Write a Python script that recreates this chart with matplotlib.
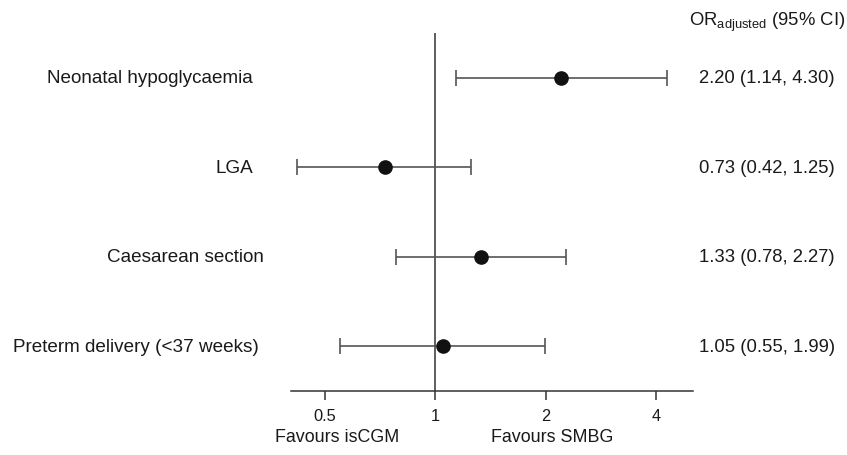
import numpy as np
import matplotlib
matplotlib.use("Agg")
import matplotlib.pyplot as plt
import matplotlib.transforms as mtransforms

plt.rcParams['font.family'] = ['Liberation Sans', 'DejaVu Sans']
plt.rcParams['mathtext.fontset'] = 'custom'
plt.rcParams['mathtext.rm'] = 'Liberation Sans'
plt.rcParams['mathtext.it'] = 'Liberation Sans'

# data (top to bottom)
outcomes = ["Neonatal hypoglycaemia", "LGA", "Caesarean section", "Preterm delivery (<37 weeks)"]
odds = [2.20, 0.73, 1.33, 1.05]
lower = [1.14, 0.42, 0.78, 0.55]
upper = [4.30, 1.25, 2.27, 1.99]
xticks = [0.5, 1, 2, 4]
xticklabels = ["0.5", "1", "2", "4"]

# right edge of each outcome label, in figure pixels
label_right = [253, 253, 264, 259]

fig = plt.figure(figsize=(8.47, 4.56), dpi=100)
ax = fig.add_axes([291 / 847, 1 - 392 / 456, (693 - 291) / 847, (392 - 34) / 456])

n = len(outcomes)
ypos = np.arange(n, 0, -1)
odds = np.array(odds)
err = np.vstack([odds - np.array(lower), np.array(upper) - odds])

ax.errorbar(odds, ypos, xerr=err, fmt='none', ecolor='#555555', elinewidth=1.2,
            capsize=6, capthick=1.2, zorder=2)
ax.plot(odds, ypos, 'o', color='#111111', markersize=9.5, zorder=3)
ax.axvline(1, color='#333333', lw=1.1, zorder=1)

ax.set_xscale('log')
ax.set_xlim(0.404, 5.05)
ax.set_ylim(0.5, 4.5)
ax.set_xticks(xticks)
ax.set_xticklabels(xticklabels)
ax.minorticks_off()
ax.set_yticks([])
for s in ['top', 'right', 'left']:
    ax.spines[s].set_visible(False)
ax.spines['bottom'].set_color('#333333')
ax.spines['bottom'].set_linewidth(1.1)
ax.tick_params(axis='x', direction='out', length=6.5, width=1.1, color='#333333',
               labelsize=11.8, labelcolor='#1a1a1a', pad=6)

trans = mtransforms.blended_transform_factory(fig.transFigure, ax.transData)
for lab, xr, y in zip(outcomes, label_right, ypos):
    ax.text(xr / 847, y, lab, transform=trans, ha='right', va='center',
            fontsize=13.6, color='#1a1a1a')

for o, lo, hi, y in zip(odds, lower, upper, ypos):
    ax.text(835 / 847, y, f"{o:.2f} ({lo:.2f}, {hi:.2f})", transform=trans,
            ha='right', va='center', fontsize=13.3, color='#1a1a1a')

fig.text(845 / 847, 1 - 22 / 456, r"OR$_{\mathrm{adjusted}}$ (95% CI)", ha='right',
         va='center', fontsize=13.3, color='#1a1a1a')

fig.text(337 / 847, 1 - 438 / 456, "Favours isCGM", ha='center', va='center',
         fontsize=12.9, color='#1a1a1a')
fig.text(552 / 847, 1 - 438 / 456, "Favours SMBG", ha='center', va='center',
         fontsize=12.9, color='#1a1a1a')

fig.savefig("out.png", dpi=100)
